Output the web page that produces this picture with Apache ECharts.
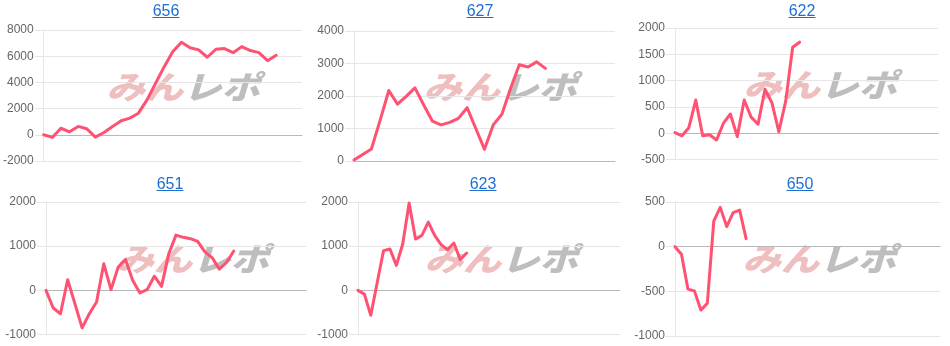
<!DOCTYPE html>
<html>
<head>
<meta charset="utf-8">
<script src="https://cdn.jsdelivr.net/npm/echarts@6/dist/echarts.min.js"></script>
<style>
html,body{margin:0;padding:0;background:#fff;}
#chart{width:950px;height:346px;}
</style>
</head>
<body>
<div id="chart"></div>
<script>
// ---- data ----
const titles = ['656', '627', '622', '651', '623', '650'];
const categoryCounts = [31, 31, 39, 37, 42, 42];
const values656 = [0, -200, 500, 230, 640, 460, -180, 180, 640, 1070, 1270, 1650, 2670, 3940, 5200, 6350, 7060, 6650, 6480, 5920, 6530, 6580, 6270, 6730, 6430, 6270, 5660, 6070];
const values627 = [30, 200, 370, 1250, 2170, 1750, 1990, 2250, 1730, 1230, 1110, 1190, 1310, 1640, 1000, 360, 1110, 1440, 2240, 2960, 2890, 3050, 2850];
const values622 = [10, -50, 105, 630, -50, -30, -130, 190, 365, -65, 630, 305, 170, 835, 580, 30, 610, 1635, 1730];
const values651 = [0, -400, -530, 240, -300, -850, -530, -265, 600, 15, 530, 700, 230, -60, 15, 320, 90, 830, 1250, 1200, 1170, 1110, 870, 740, 480, 630, 890];
const values623 = [0, -85, -565, 170, 900, 935, 565, 1050, 1975, 1160, 1245, 1545, 1245, 1035, 920, 1070, 695, 845];
const values650 = [0, -85, -475, -495, -710, -635, 285, 440, 225, 380, 410, 90];
const seriesValues = [values656, values627, values622, values651, values623, values650];
const yMins = [-2000, 0, -500, -1000, -1000, -1000];
const yMaxs = [8000, 4000, 2000, 2000, 2000, 500];
const yIntervals = [2000, 1000, 500, 1000, 1000, 500];

// ---- layout ----
const grids = [
  {left: 42, top: 30, width: 260, height: 131},
  {left: 354, top: 31, width: 261, height: 130},
  {left: 675, top: 28, width: 263, height: 131.5},
  {left: 46, top: 202, width: 260, height: 132.5},
  {left: 358, top: 202, width: 262, height: 132.5},
  {left: 675, top: 202, width: 265, height: 134}
];
const titlePos = [[166, 11.5], [480, 11.5], [802, 11.5], [170, 184.5], [483, 184.5], [800, 184.5]];
const wmPos = [[182, 87], [499, 87], [819, 85], [191, 259], [500, 259], [818, 259]];

const FONT = '"Liberation Sans", Arial, sans-serif';
const LINK = '#1f6fd0';
const WMFONT = 'italic 900 32px "Noto Sans CJK JP"';

const option = {
  animation: false,
  grid: grids.map(g => Object.assign({containLabel: false}, g)),
  xAxis: [], yAxis: [], series: [], graphic: []
};

for (let i = 0; i < 6; i++) {
  const cats = Array.from({length: categoryCounts[i]}, (_, k) => String(k + 1));
  option.xAxis.push({
    type: 'category', gridIndex: i, data: cats, boundaryGap: false,
    axisLabel: {show: false}, axisTick: {show: false}, splitLine: {show: false},
    axisLine: {show: true, onZero: true, lineStyle: {color: '#b8b8b8', width: 1}}
  });
  option.yAxis.push({
    type: 'value', gridIndex: i, min: yMins[i], max: yMaxs[i], interval: yIntervals[i],
    axisLine: {show: true, lineStyle: {color: '#e6e6e6'}},
    axisTick: {show: true, length: 9, lineStyle: {color: '#e6e6e6'}},
    splitLine: {show: true, lineStyle: {color: '#e6e6e6'}},
    axisLabel: {color: '#666', fontSize: 12, fontFamily: FONT, margin: 10, formatter: v => String(v)}
  });
  option.series.push({
    type: 'line', xAxisIndex: i, yAxisIndex: i, data: seriesValues[i],
    showSymbol: false, symbol: 'none', z: 5,
    lineStyle: {color: '#ff5172', width: 3, join: 'round', cap: 'round'},
    emphasis: {disabled: true}
  });
  const [tx, ty] = titlePos[i];
  option.graphic.push({
    type: 'text', x: tx, y: ty, z: 10,
    style: {text: titles[i], fill: LINK, font: '16px ' + FONT, textAlign: 'center', textVerticalAlign: 'middle'}
  });
  option.graphic.push({
    type: 'rect', shape: {x: tx - 13.5, y: ty + 5.5, width: 27, height: 1}, z: 10,
    style: {fill: LINK}
  });
  const [wx, wy] = wmPos[i];
  option.graphic.push({
    type: 'group', x: wx, y: wy, z: 1, scaleX: 1.2,
    children: [
      {type: 'text', x: 1, y: 0, style: {text: 'みん', fill: 'rgba(222,120,120,0.48)', font: WMFONT, textAlign: 'right', textVerticalAlign: 'middle'}},
      {type: 'text', x: 1, y: 0, style: {text: 'レポ', fill: 'rgba(150,150,150,0.62)', font: WMFONT, textAlign: 'left', textVerticalAlign: 'middle'}}
    ]
  });
}

const chart = echarts.init(document.getElementById('chart'), null, {renderer: 'canvas'});
chart.setOption(option);
</script>
</body>
</html>
